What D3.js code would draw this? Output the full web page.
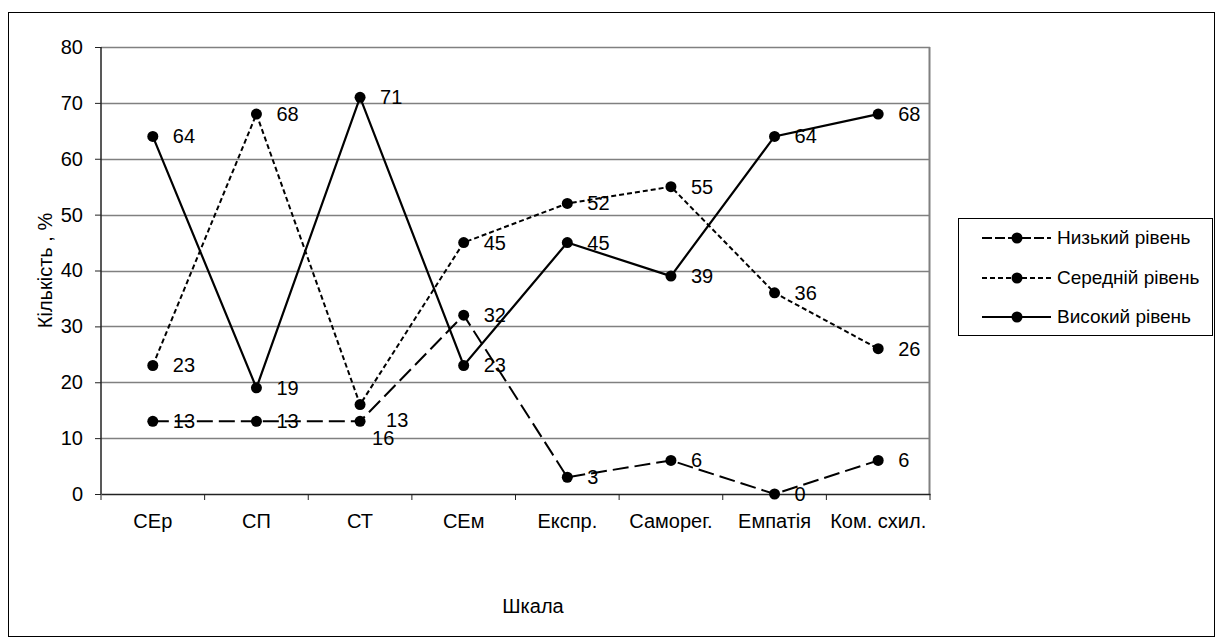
<!DOCTYPE html>
<html>
<head>
<meta charset="utf-8">
<script src="https://cdn.jsdelivr.net/npm/d3@7"></script>
<style>
  html, body { margin: 0; padding: 0; background: #fff; }
  svg { display: block; font-family: "Liberation Sans", Arial, sans-serif; }
</style>
</head>
<body>
<svg id="chart" width="1223" height="644"></svg>
<script>
const categories = ["СЕр", "СП", "СТ", "СЕм", "Експр.", "Саморег.", "Емпатія", "Ком. схил."];
const lowValues = [13, 13, 13, 32, 3, 6, 0, 6];
const midValues = [23, 68, 16, 45, 52, 55, 36, 26];
const highValues = [64, 19, 71, 23, 45, 39, 64, 68];
const seriesNames = ["Низький рівень", "Середній рівень", "Високий рівень"];
const yTicks = [0, 10, 20, 30, 40, 50, 60, 70, 80];

const styles = [
  { dash: "16,6", width: 2 },
  { dash: "5,3", width: 2 },
  { dash: null, width: 2.2 }
];
const allSeries = [lowValues, midValues, highValues];
const FS = 20;

const svg = d3.select("#chart");
const plot = { left: 101, top: 47, right: 930, bottom: 494 };

const x = d3.scaleBand().domain(categories).range([plot.left, plot.right]).padding(0);
const y = d3.scaleLinear().domain([0, 80]).range([plot.bottom, plot.top]);
const cx = c => x(c) + x.bandwidth() / 2;

// outer frame
svg.append("rect").attr("x", 8.5).attr("y", 12.5).attr("width", 1206).attr("height", 624)
  .attr("fill", "none").attr("stroke", "#000").attr("stroke-width", 1);

// gridlines
svg.append("g").selectAll("line").data(yTicks.filter(t => t > 0)).join("line")
  .attr("x1", plot.left).attr("x2", plot.right)
  .attr("y1", d => Math.round(y(d)) + 0.5).attr("y2", d => Math.round(y(d)) + 0.5)
  .attr("stroke", "#808080").attr("stroke-width", 1.3);

// right border of plot
svg.append("line").attr("x1", plot.right - 0.5).attr("x2", plot.right - 0.5)
  .attr("y1", plot.top).attr("y2", plot.bottom)
  .attr("stroke", "#808080").attr("stroke-width", 2);

// y axis
const yAxis = svg.append("g").attr("transform", `translate(${plot.left},0)`)
  .call(d3.axisLeft(y).tickValues(yTicks).tickSize(6).tickPadding(12).tickFormat(d3.format("d")));
yAxis.select(".domain").attr("stroke", "#222").attr("stroke-width", 1.5).attr("d", `M0,${plot.top}V${plot.bottom}`);
yAxis.selectAll(".tick line").attr("stroke", "#222");
yAxis.selectAll(".tick text").attr("font-size", FS).attr("fill", "#000")
  .attr("font-family", "Liberation Sans, Arial, sans-serif");

// x axis
const xAxis = svg.append("g").attr("transform", `translate(0,${plot.bottom})`)
  .call(d3.axisBottom(x).tickSize(0).tickPadding(20));
xAxis.select(".domain").attr("stroke", "#222").attr("stroke-width", 1.5);
xAxis.selectAll(".tick text").attr("font-size", FS).attr("fill", "#000")
  .attr("font-family", "Liberation Sans, Arial, sans-serif");
// boundary ticks
const bounds = categories.map(c => x(c)).concat([plot.right]);
svg.append("g").selectAll("line").data(bounds).join("line")
  .attr("x1", d => d).attr("x2", d => d)
  .attr("y1", plot.bottom).attr("y2", plot.bottom + 6)
  .attr("stroke", "#222").attr("stroke-width", 1);

// axis titles
svg.append("text").attr("transform", `translate(52,${(plot.top + plot.bottom) / 2}) rotate(-90)`)
  .attr("text-anchor", "middle").attr("font-size", FS).text("Кількість , %");
svg.append("text").attr("x", 533).attr("y", 613)
  .attr("text-anchor", "middle").attr("font-size", FS).text("Шкала");

// lines
const line = d3.line().x((d, i) => cx(categories[i])).y(d => y(d));
allSeries.forEach((vals, si) => {
  const g = svg.append("g");
  g.append("path").datum(vals).attr("d", line)
    .attr("fill", "none").attr("stroke", "#000")
    .attr("stroke-width", styles[si].width)
    .attr("stroke-dasharray", styles[si].dash);
  g.selectAll("circle").data(vals).join("circle")
    .attr("cx", (d, i) => cx(categories[i])).attr("cy", d => y(d)).attr("r", 5.5)
    .attr("fill", "#000");
});

// data labels (nudges keep the CT labels of "16" and "13" apart)
const labelShift = { "1-2": { dx: 12, dy: 33 }, "0-2": { dx: 26, dy: -1 } };
allSeries.forEach((vals, si) => {
  svg.append("g").selectAll("text").data(vals).join("text")
    .attr("x", (d, i) => cx(categories[i]) + ((labelShift[si + "-" + i] || {}).dx ?? 20))
    .attr("y", (d, i) => y(d) + 7 + ((labelShift[si + "-" + i] || {}).dy || 0))
    .attr("font-size", FS).attr("fill", "#000")
    .text(d => d);
});

// legend
const lg = svg.append("g");
lg.append("rect").attr("x", 958.5).attr("y", 218.5).attr("width", 254).attr("height", 117)
  .attr("fill", "#fff").attr("stroke", "#000").attr("stroke-width", 1);
const rowsY = [238, 278, 317];
seriesNames.forEach((name, si) => {
  const ry = rowsY[si];
  lg.append("line").attr("x1", 982).attr("x2", 1051).attr("y1", ry).attr("y2", ry)
    .attr("stroke", "#000").attr("stroke-width", styles[si].width)
    .attr("stroke-dasharray", si === 0 ? "10,3" : styles[si].dash);
  lg.append("circle").attr("cx", 1017).attr("cy", ry).attr("r", 5.5).attr("fill", "#000");
  lg.append("text").attr("x", 1057).attr("y", ry + 6).attr("font-size", 19).text(name);
});
</script>
</body>
</html>
